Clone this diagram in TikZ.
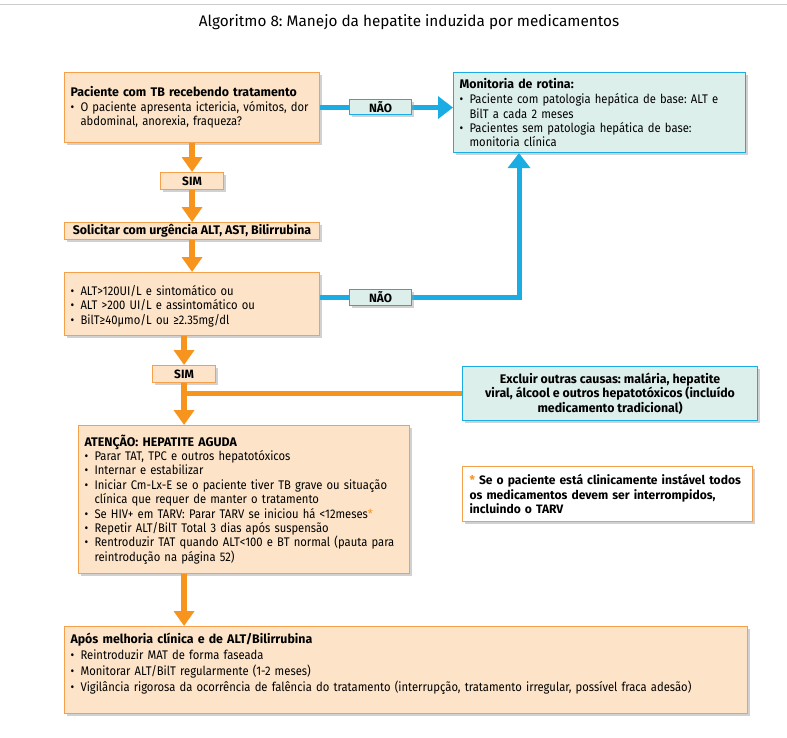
\documentclass[tikz,border=0pt]{standalone}
\usepackage{fontspec}
\setmainfont{Fira Sans}[FakeStretch=0.9,BoldFeatures={FakeStretch=0.99}]
\newfontfamily\titlef{Fira Sans}
\usetikzlibrary{arrows.meta,shadows}
\definecolor{obord}{HTML}{F5A04A}
\definecolor{ofill}{HTML}{FDE4C9}
\definecolor{oarrow}{HTML}{F7941E}
\definecolor{bblue}{HTML}{1AADE4}
\definecolor{tfill}{HTML}{DDEFEB}
\newcommand\bitem[1]{\par\noindent\hangindent=10pt\hangafter=1\makebox[10pt][l]{\textbullet}#1}
\frenchspacing
\begin{document}
\begin{tikzpicture}[x=1pt,y=-1pt,
  every node/.append style={execute at begin node={\frenchspacing\hyphenpenalty=10000\exhyphenpenalty=10000}},
  shad/.style={drop shadow={shadow xshift=2pt,shadow yshift=-2.5pt,fill=black!40,opacity=.45}},
  obox/.style={draw=obord,fill=ofill,line width=1.1pt,shad,anchor=north west,align=left,inner xsep=6pt,inner ysep=0pt,
     font=\fontsize{12.5}{14.4}\selectfont},
  tbox/.style={draw=bblue,fill=tfill,line width=1.1pt,shad,anchor=north west,align=left,inner xsep=6pt,inner ysep=0pt,
     font=\fontsize{12.5}{14.4}\selectfont},
  olab/.style={draw=obord,fill=ofill,line width=1.1pt,shad,anchor=north west,inner sep=0pt,font=\bfseries\fontsize{12}{13}\selectfont},
  blab/.style={draw=bblue,fill=tfill,line width=1.1pt,shad,anchor=north west,inner sep=0pt,font=\bfseries\fontsize{12}{13}\selectfont},
  oarr/.style={draw=oarrow,line width=5.5pt,-{Triangle[width=20pt,length=15pt]}},
  oline/.style={draw=oarrow,line width=5pt},
  barr/.style={draw=bblue,line width=5pt,-{Triangle[width=22pt,length=15pt]}},
]
\useasboundingbox (0,0) rectangle (787,737);
\draw[black!20,line width=0.8pt] (0,4) -- (787,4);
\node (title) at (409,22) {\titlef\fontsize{15.3}{17}\selectfont Algoritmo 8: Manejo da hepatite induzida por medicamentos};

% boxes
\node[obox,minimum width=255pt,minimum height=70pt,text width=243pt] (b1) at (64,72)
 {\textbf{Paciente com TB recebendo tratamento}
  \bitem{O paciente apresenta ictericia, vómitos, dor abdominal, anorexia, fraqueza?}\par};
\node[tbox,minimum width=292pt,minimum height=80pt,text width=280pt] (mon) at (453,72)
 {\textbf{Monitoria de rotina:}\par\vspace{1pt}
  \bitem{Paciente com patologia hepática de base: ALT e BilT a cada 2 meses}
  \bitem{Pacientes sem patologia hepática de base: monitoria clínica}\par};
\node[olab,minimum width=63pt,minimum height=17pt] (sim1) at (160,172) {SIM};
\node[obox,minimum width=255pt,minimum height=17pt,align=center,font=\bfseries\fontsize{12.5}{13}\selectfont] (sol) at (64,222) {Solicitar com urgência ALT, AST, Bilirrubina};
\node[obox,minimum width=255pt,minimum height=63pt,text width=243pt] (b3) at (64,272)
 {\bitem{ALT>120UI/L e sintomático ou}
  \bitem{ALT >200 UI/L e assintomático ou}
  \bitem{BilT≥40µmo/L ou ≥2.35mg/dl}\par};
\node[olab,minimum width=63pt,minimum height=17pt] (sim2) at (152,365) {SIM};
\node[tbox,minimum width=295pt,minimum height=54pt,align=center,font=\bfseries\fontsize{12.5}{14.5}\selectfont] (exc) at (462,366)
 {Excluir outras causas: malária, hepatite\\ viral, álcool e outros hepatotóxicos (incluído\\ medicamento tradicional)};
\node[obox,minimum width=331pt,minimum height=148pt,text width=319pt,font=\fontsize{12.5}{14.4}\selectfont] (att) at (78,425)
 {\textbf{ATENÇÃO: HEPATITE AGUDA}
  \bitem{Parar TAT, TPC e outros hepatotóxicos}
  \bitem{Internar e estabilizar}
  \bitem{Iniciar Cm-Lx-E se o paciente tiver TB grave ou situação clínica que requer de manter o tratamento}
  \bitem{Se HIV+ em TARV: Parar TARV se iniciou há <12meses\textcolor{oarrow}{*}}
  \bitem{Repetir ALT/BilT Total 3 dias após suspensão}
  \bitem{Rentroduzir TAT quando ALT<100 e BT normal (pauta para reintrodução na página 52)}\par};
\node[obox,fill=white,minimum width=290pt,minimum height=55pt,inner xsep=7pt,text width=276pt,font=\bfseries\fontsize{12.2}{14.5}\selectfont] (note) at (462,466)
 {\textcolor{oarrow}{*} Se o paciente está clinicamente instável todos os medicamentos devem ser interrompidos, incluindo o TARV\par};
\node[obox,minimum width=683pt,minimum height=87pt,text width=671pt,font=\fontsize{12.5}{16}\selectfont] (fin) at (64,626)
 {\textbf{Após melhoria clínica e de ALT/Bilirrubina}
  \bitem{Reintroduzir MAT de forma faseada}
  \bitem{Monitorar ALT/BilT regularmente (1-2 meses)}
  \bitem{Vigilância rigorosa da ocorrência de falência do tratamento (interrupção, tratamento irregular, possível fraca adesão)}\par\nointerlineskip\vbox to 13pt{}};

% connectors
\draw[oarr] (b1.south -| sim1.north) -- (sim1.north);
\draw[oarr] (sim1.south) -- (sim1.south |- sol.north);
\draw[oarr] (sol.south -| sim1.south) -- (sim1.south |- b3.north);
\draw[oarr] (sim2.north |- b3.south) -- (sim2.north);
\coordinate (j) at (sim2.south |- exc.west);
\draw[oline] (j) -- (exc.west);
\draw[oarr] (sim2.south) -- (sim2.south |- att.north);
\draw[oarr] (sim2.south |- att.south) -- (sim2.south |- fin.north);
\draw[barr] (b1.east) -- (mon.west |- b1.east);
\draw[barr] ([yshift=6.5pt]b3.east) -| ([xshift=66pt]mon.south west);
\node[blab,minimum width=62pt,minimum height=15pt] (nao1) at (349,99) {NÃO};
\node[blab,minimum width=62pt,minimum height=16pt] (nao2) at (349,289) {NÃO};
\end{tikzpicture}
\end{document}
